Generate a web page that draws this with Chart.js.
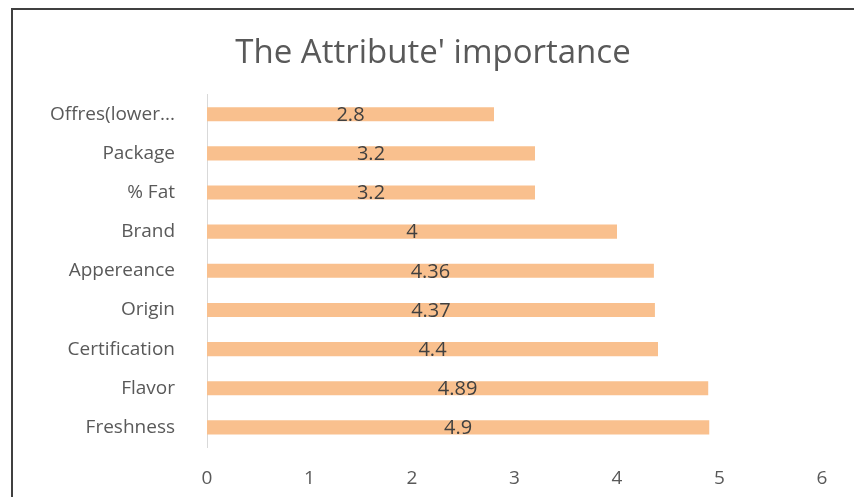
<!DOCTYPE html>
<html>
<head>
<meta charset="utf-8">
<script src="https://cdn.jsdelivr.net/npm/chart.js@4"></script>
<style>
  html, body { margin: 0; padding: 0; background: #fff; overflow: hidden; width: 854px; height: 497px; }
  #wrap { position: absolute; left: 0; top: 0; width: 854px; height: 497px; }
  #frame { position: absolute; left: 11px; top: 8px; width: 900px; height: 600px; border: 2px solid #404040; box-sizing: border-box; pointer-events: none; }
</style>
</head>
<body>
<div id="wrap"><canvas id="myChart" width="854" height="497"></canvas></div>
<div id="frame"></div>
<script>
const categories = ['Offres(lower...', 'Package', '% Fat', 'Brand', 'Appereance', 'Origin', 'Certification', 'Flavor', 'Freshness'];
const importance = [2.8, 3.2, 3.2, 4, 4.36, 4.37, 4.4, 4.89, 4.9];
const xTicks = [0, 1, 2, 3, 4, 5, 6];

const valueLabels = {
    id: 'valueLabels',
    afterDatasetsDraw(chart) {
        const c = chart.ctx;
        const meta = chart.getDatasetMeta(0);
        c.save();
        c.font = '20px "Open Sans", sans-serif';
        c.fillStyle = '#404040';
        c.textAlign = 'center';
        c.textBaseline = 'middle';
        meta.data.forEach((bar, i) => {
            const x = (bar.x + bar.base) / 2;
            c.fillText(String(importance[i]), x, bar.y + 1);
        });
        c.restore();
    }
};

const ctx = document.getElementById('myChart');
new Chart(ctx, {
    type: 'bar',
    data: {
        labels: categories,
        datasets: [{
            label: 'Importance',
            data: importance,
            backgroundColor: '#F9C08E',
            barPercentage: 0.36,
            categoryPercentage: 1
        }]
    },
    options: {
        indexAxis: 'y',
        responsive: false,
        animation: false,
        layout: { padding: { left: 44, right: 32, top: 34, bottom: 10 } },
        plugins: {
            legend: { display: false },
            tooltip: { enabled: false },
            title: {
                display: true,
                text: "The Attribute' importance",
                color: '#595959',
                font: { family: '"Open Sans", sans-serif', size: 33, weight: 'normal' },
                padding: { top: 0, bottom: 21 }
            }
        },
        scales: {
            x: {
                min: 0,
                max: 6,
                grid: { display: false },
                border: { display: false },
                afterBuildTicks(scale) {
                    scale.ticks = xTicks.map(v => ({ value: v }));
                },
                afterFit(scale) { scale.height = 40; },
                ticks: {
                    color: '#595959',
                    padding: 12,
                    font: { family: '"Open Sans", sans-serif', size: 19 }
                }
            },
            y: {
                grid: { display: false },
                border: { display: true, color: '#d9d9d9', width: 1 },
                afterFit(scale) { scale.width = 163; },
                ticks: {
                    color: '#595959',
                    padding: 24,
                    font: { family: '"Open Sans", sans-serif', size: 19 }
                }
            }
        }
    },
    plugins: [valueLabels]
});
</script>
</body>
</html>
